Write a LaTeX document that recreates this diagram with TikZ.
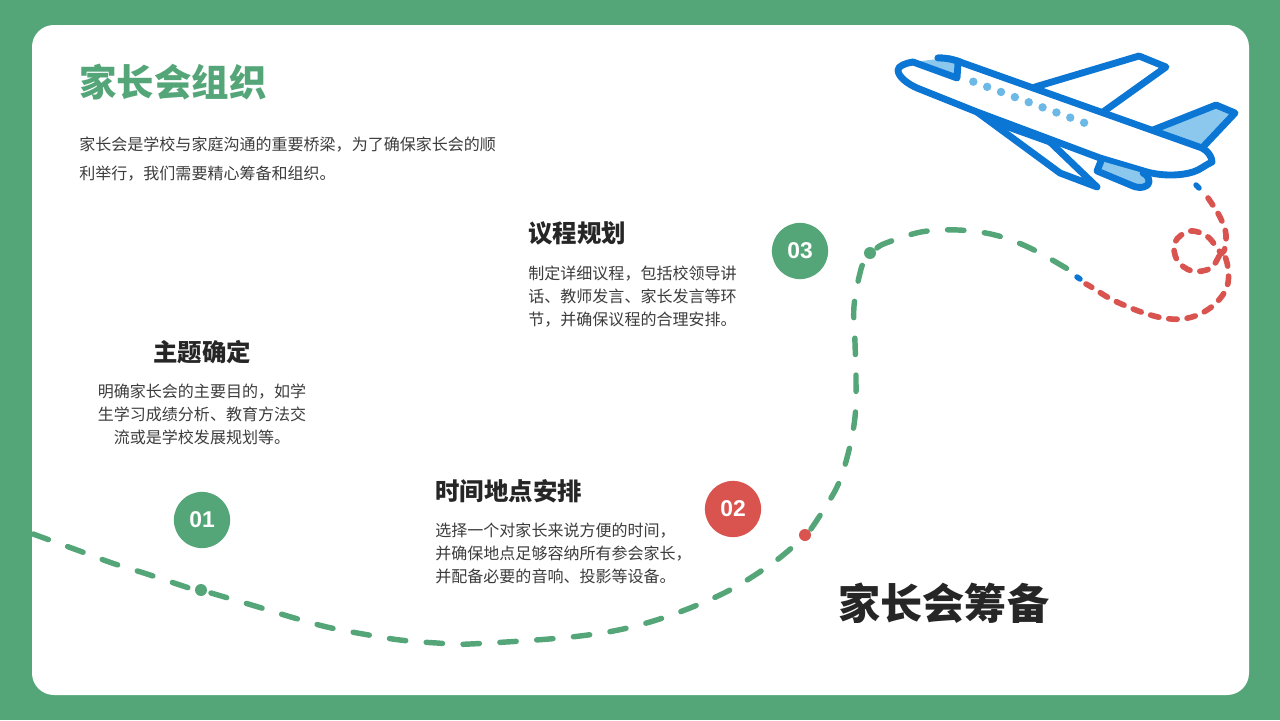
\documentclass[tikz,border=0pt]{standalone}
\usepackage{fontspec}
\setmainfont{Noto Sans CJK SC}
\newfontfamily\numfont{Liberation Sans}
\definecolor{bggreen}{HTML}{54A678}
\definecolor{pathred}{HTML}{D9534F}
\definecolor{planeblue}{HTML}{0B76D3}
\definecolor{planelight}{HTML}{8CC8EE}
\definecolor{dotblue}{HTML}{6CB8E6}
\definecolor{inkdark}{HTML}{262626}
\tikzset{
  bodytext/.style={text=inkdark!90, font=\fontsize{9.12}{13}\selectfont, inner sep=0pt},
  headtext/.style={text=inkdark, font=\fontsize{13.9}{16}\selectfont\bfseries, inner sep=0pt},
  numdot/.style={circle, minimum size=32pt, inner sep=0pt, text=white, font=\numfont\fontsize{13}{16}\selectfont\bfseries},
  planeline/.style={draw=planeblue, line width=3.9pt, line join=round, line cap=round},
  trailgreen/.style={draw=bggreen, line width=3.1pt, line cap=round, dash pattern=on 9.3pt off 11.7pt},
  trailred/.style={draw=pathred, line width=3.2pt, line cap=round, dash pattern=on 4.8pt off 5.7pt},
}
\begin{document}
\begin{tikzpicture}[x=0.02cm, y=-0.02cm]
  \useasboundingbox (0,0) rectangle (1280,720);

  % Background and card
  \fill[bggreen] (0,0) rectangle (1280,720);
  \fill[white, rounded corners=12.5pt] (32,25) rectangle (1249,695);

  % Dashed trail
  \draw[trailgreen] plot[smooth, tension=0.6] coordinates {(33,534) (77,550) (112,563) (147,574) (192,589)};
  \draw[trailgreen] plot[smooth, tension=0.6] coordinates {(211,593) (255,606) (291,617) (327,627) (363,634) (400,640) (437,643) (470,644) (580,636) (650,622) (720,595) (770,565) (797,543)};
  \draw[trailgreen] plot[smooth, tension=0.6] coordinates {(811,529) (836,489) (848,454) (855,417) (856,380) (855,343) (854,306) (861,269) (866,260)};
  \draw[trailgreen] plot[smooth, tension=0.6] coordinates {(877,248) (886,243) (921,232) (958,230) (995,235) (1030,248) (1071,271)};
  \draw[trailred] plot[smooth, tension=0.6] coordinates {(1208,198) (1220,217) (1226,235) (1222,253) (1208,237) (1190,231) (1175,242) (1177,260) (1192,271) (1211,268) (1222,253) (1228,268) (1227,287) (1216,303) (1200,314) (1182,319) (1163,318) (1144,313) (1126,306) (1109,298) (1093,288) (1086,284)};
  \draw[planeblue, line width=3.1pt, line cap=round] (1196,185) -- (1199,188);
  \draw[planeblue, line width=3.1pt, line cap=round] (1077,277) -- (1080,279);

  % Dots on the trail
  \fill[bggreen] (201,590) circle (6);
  \fill[pathred] (805,535) circle (6);
  \fill[bggreen] (870,253) circle (6);

  % Upper wing
  \draw[planeline] (1035,87) -- (1139,56) -- (1166,67) -- (1103,112);

  % Tail
  \draw[planeline, fill=planelight] (1153,130) -- (1216,105) -- (1235,113) -- (1202,148);

  % Lower wing
  \draw[planeline, fill=white] (977,112) -- (1060,173) -- (1097,187) -- (1050,142);
  \draw[planeline] (997,123) -- (1050,142);

  % Fuselage
  \draw[planeline, fill=white] (938,58) .. controls (948,58) and (955,60) .. (960,62) -- (1202,148) .. controls (1208,151) and (1212,157) .. (1212,162) .. controls (1205,165) and (1200,170) .. (1193,172) .. controls (1180,176) and (1162,176) .. (1147,172) -- (1100,158) -- (977,112) -- (917,88) .. controls (908,84) and (898,77) .. (898,70) .. controls (898,66) and (906,63) .. (913,62);

  % Cockpit window
  \fill[planelight] (913,62) -- (938,59) -- (958,64) -- (957,78) -- cycle;
  \draw[planeline] (913,62) -- (957,78) -- (958,63);
  \draw[planeline] (938,58) .. controls (948,58) and (955,60) .. (960,62);

  % Engine
  \draw[planeline, fill=planelight] (1101,161) -- (1097,171) -- (1133,186) .. controls (1140,189) and (1149,187) .. (1149,182) .. controls (1149,178) and (1147,175) .. (1143,173);

  % Cabin windows
  \foreach \i in {0,...,8}
    \fill[dotblue] ({973.3+13.85*\i},{81.7+5.13*\i}) circle (4.2);

  % Headline and intro
  \node[anchor=west, inner sep=0pt, text=bggreen, font=\fontsize{21.3}{25}\selectfont\bfseries] (title) at (79,82) {家长会组织};
  \node[anchor=north west, bodytext, align=left, font=\fontsize{9.12}{16.45}\selectfont] (intro) at (79,137) {家长会是学校与家庭沟通的重要桥梁，为了确保家长会的顺\\利举行，我们需要精心筹备和组织。};

  % Step 1
  \node[numdot, fill=bggreen] (num1) at (202,520) {01};
  \node[headtext] (head1) at (202,352) {主题确定};
  \node[bodytext, align=center, anchor=north] (body1) at (202,384) {明确家长会的主要目的，如学\\生学习成绩分析、教育方法交\\流或是学校发展规划等。};

  % Step 2
  \node[numdot, fill=pathred] (num2) at (733,509) {02};
  \node[headtext, anchor=west] (head2) at (435,491) {时间地点安排};
  \node[bodytext, align=left, anchor=north west] (body2) at (435,523) {选择一个对家长来说方便的时间，\\并确保地点足够容纳所有参会家长，\\并配备必要的音响、投影等设备。};

  % Step 3
  \node[numdot, fill=bggreen] (num3) at (800,251) {03};
  \node[headtext, anchor=west] (head3) at (528,233) {议程规划};
  \node[bodytext, align=left, anchor=north west] (body3) at (528,266) {制定详细议程，包括校领导讲\\话、教师发言、家长发言等环\\节，并确保议程的合理安排。};

  % Closing label
  \node[anchor=west, inner sep=0pt, text=inkdark, font=\fontsize{24}{28}\selectfont\bfseries] (closing) at (838,603) {家长会筹备};
\end{tikzpicture}
\end{document}
